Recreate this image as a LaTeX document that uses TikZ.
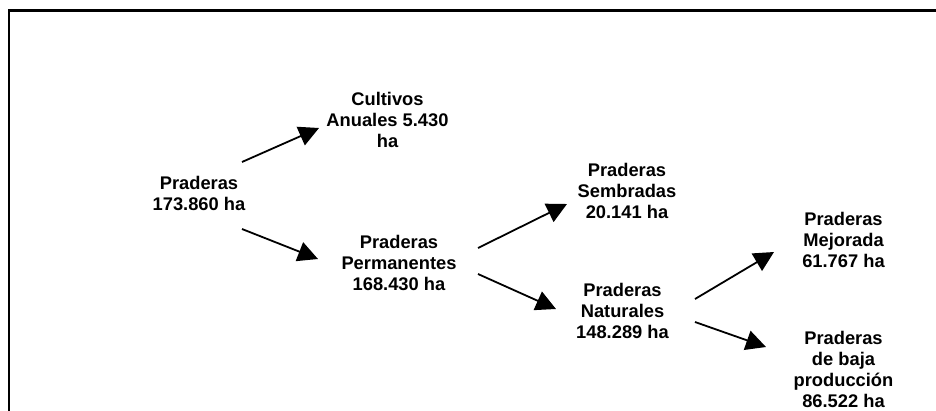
\documentclass[tikz,border=0pt]{standalone}
\usepackage{fontspec}
\setmainfont{Liberation Sans}
\usetikzlibrary{arrows.meta}

\tikzset{
  caja/.style={align=center,inner sep=0pt,font=\bfseries\fontsize{18.3}{21}\selectfont},
  flecha/.style={line width=1.8pt,-{Triangle[length=20pt,width=20pt]}},
  marco/.style={line width=2.4pt},
}

\begin{document}
\begin{tikzpicture}[x=1pt,y=-1pt]

\clip (0,0) rectangle (936,410);
\draw[marco] (9,430)--(9,10.5)--(950,10.5);

\node[caja] (praderas) at (199,193.5) {Praderas\\173.860 ha};
\node[caja] (cultivos) at (387.5,119.5) {Cultivos\\Anuales 5.430\\ha};
\node[caja] (permanentes) at (399,262.5) {Praderas\\Permanentes\\168.430 ha};
\node[caja] (sembradas) at (627,190.5) {Praderas\\Sembradas\\20.141 ha};
\node[caja] (naturales) at (622.5,310.5) {Praderas\\Naturales\\148.289 ha};
\node[caja] (mejorada) at (843.5,239.5) {Praderas\\Mejorada\\61.767 ha};
\node[caja] (baja) at (843.5,369.5) {Praderas\\de baja\\producción\\86.522 ha};

\draw[flecha] ([shift={(43,-31.5)}]praderas.center)--([shift={(-68.5,8.5)}]cultivos.center);
\draw[flecha] ([shift={(43,35.5)}]praderas.center)--([shift={(-81,-3.5)}]permanentes.center);
\draw[flecha] ([shift={(79,-14.5)}]permanentes.center)--([shift={(-60,13.5)}]sembradas.center);
\draw[flecha] ([shift={(79,11.5)}]permanentes.center)--([shift={(-66.5,-1.5)}]naturales.center);
\draw[flecha] ([shift={(72.5,-11.5)}]naturales.center)--([shift={(-69.5,12.5)}]mejorada.center);
\draw[flecha] ([shift={(72.5,11.5)}]naturales.center)--([shift={(-77.5,-22.5)}]baja.center);

\end{tikzpicture}
\end{document}
